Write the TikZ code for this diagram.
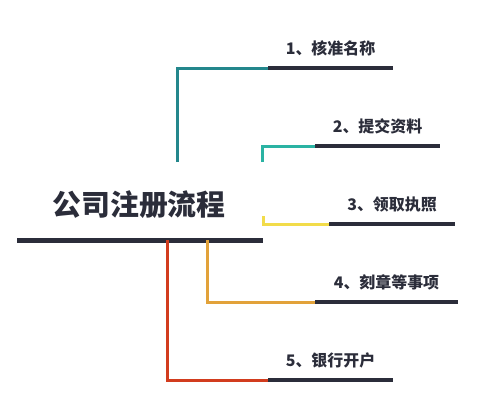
\documentclass[tikz,border=0pt]{standalone}
\usepackage{fontspec}
\setmainfont{Noto Sans CJK SC}
\usetikzlibrary{calc,positioning}
\definecolor{darkline}{HTML}{2B2D3A}
\definecolor{tealA}{HTML}{23878C}
\definecolor{tealB}{HTML}{2AB3A3}
\definecolor{yellowC}{HTML}{F2DC4A}
\definecolor{orangeD}{HTML}{E2A23A}
\definecolor{redE}{HTML}{D23C1E}

\begin{document}
\begin{tikzpicture}[x=1bp,y=-1bp]

\tikzset{steplabel/.style={font=\fontsize{16}{19}\selectfont\bfseries,text=darkline,inner sep=0pt},
titlenode/.style={font=\fontsize{29}{34}\selectfont\bfseries,text=darkline,inner sep=0pt},
bar/.style={line width=3.5bp,draw=darkline},
branch/.style={line width=3bp}}

\useasboundingbox (0,0) rectangle (497,419);

% Title and base line
\node[titlenode] (title) at (139,205) {公司注册流程};
\coordinate (baseL) at (17,240); \coordinate (baseR) at (263,240);
\draw[line width=5bp,darkline] (baseL) -- (baseR);

% Branch points
\coordinate (r1) at (177,162); \coordinate (c1) at (177,68); \coordinate (m1) at (268,68); \coordinate (e1) at (393,68);
\coordinate (r2) at (262,162); \coordinate (c2) at (262,146); \coordinate (m2) at (315,146); \coordinate (e2) at (440,146);
\coordinate (r3) at (263,216); \coordinate (c3) at (263,224); \coordinate (m3) at (329,224); \coordinate (e3) at (455,224);
\coordinate (r4) at (207,240); \coordinate (c4) at (207,302); \coordinate (m4) at (315,302); \coordinate (e4) at (458,302);
\coordinate (r5) at (167,240); \coordinate (c5) at (167,380); \coordinate (m5) at (268,380); \coordinate (e5) at (393,380);

% Coloured legs
\draw[branch,tealA] (r1) -- (c1) -- (m1);
\draw[branch,tealB] (r2) -- (c2) -- (m2);
\draw[branch,yellowC] (r3) -- (c3) -- (m3);
\draw[branch,orangeD] (r4) -- (c4) -- (m4);
\draw[branch,redE] (r5) -- (c5) -- (m5);

% Dark bars
\foreach \i in {1,...,5} \draw[bar] (m\i) -- (e\i);

% Labels
\node[steplabel] (lab1) at ($(m1)!0.5!(e1) + (0,-20)$) {1、核准名称};
\node[steplabel] (lab2) at ($(m2)!0.5!(e2) + (0,-20)$) {2、提交资料};
\node[steplabel] (lab3) at ($(m3)!0.5!(e3) + (0,-20)$) {3、领取执照};
\node[steplabel] (lab4) at ($(m4)!0.5!(e4) + (0,-20)$) {4、刻章等事项};
\node[steplabel] (lab5) at ($(m5)!0.5!(e5) + (0,-20)$) {5、银行开户};

\end{tikzpicture}
\end{document}
